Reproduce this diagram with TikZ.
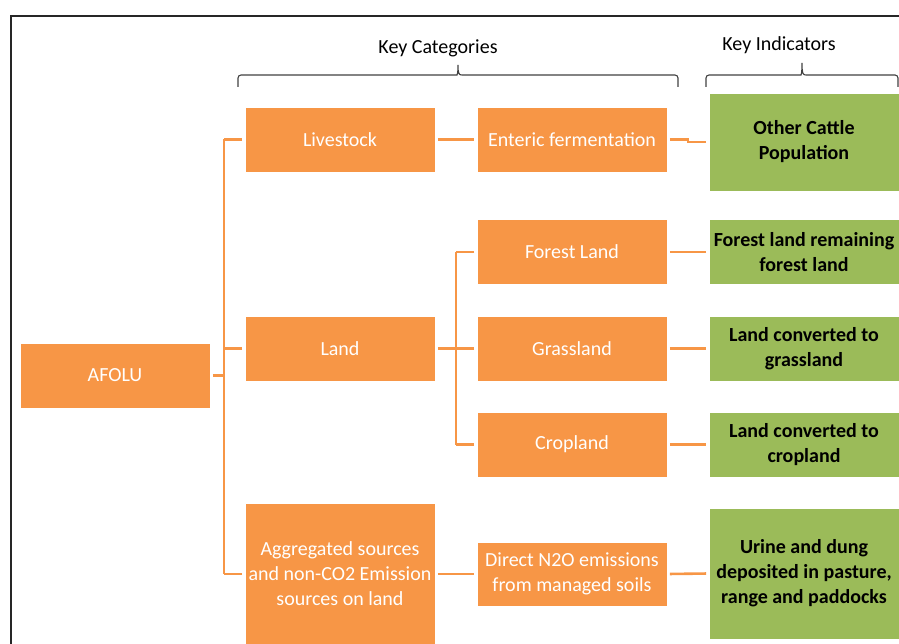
\documentclass[tikz,border=0pt]{standalone}
\usepackage{fontspec}
\setmainfont{Carlito}
\usetikzlibrary{calc}
\definecolor{boxorange}{HTML}{F79646}
\definecolor{boxgreen}{HTML}{9BBB59}
\definecolor{bracegray}{HTML}{404040}
% squared-off brace: left end, right end, tip height (y of the tip)
\newcommand\keybrace[3]{%
  \pgfmathsetmacro\bmid{(#1+#2)/2}%
  \draw[bracket] (#1,87) [rounded corners=3pt] -- (#1,75) -- (\bmid-4,75) [sharp corners]
    .. controls (\bmid-1,75) and (\bmid,74) .. (\bmid,#3)
    .. controls (\bmid,74) and (\bmid+1,75) .. (\bmid+4,75)
    [rounded corners=3pt] -- (#2,75) -- (#2,87);}
\begin{document}
\begin{tikzpicture}[x=1pt,y=-1pt,
  catbox/.style={fill=boxorange,draw=white,line width=0.6pt,minimum width=190pt,minimum height=65pt,
    align=center,text=white,inner sep=2pt,font=\fontsize{20}{25}\selectfont},
  indbox/.style={fill=boxgreen,draw=white,line width=0.6pt,minimum width=190pt,minimum height=65pt,
    align=center,text=black,inner sep=2pt,font=\fontsize{20}{25}\selectfont\bfseries},
  link/.style={draw=boxorange,line width=2.6pt},
  gap/.style={shorten <=2.5pt,shorten >=2.5pt},
  bracket/.style={draw=bracegray,line width=1.1pt},
  heading/.style={font=\fontsize{20}{24}\selectfont,text=black}]
\useasboundingbox (0,0) rectangle (899,644);
\clip (0,0) rectangle (899,644);
% outer frame
\draw[line width=2pt,draw=black!85] (10.5,660) -- (10.5,16.5) -- (920,16.5);

% column headings and their braces
\node[heading] (hcat) at (438,48) {Key Categories};
\node[heading] (hind) at (779,45) {Key Indicators};
\keybrace{238}{678}{65}
\keybrace{706}{898}{63}

% boxes
\node[catbox] (afolu) at (115,375.5) {AFOLU};
\node[catbox] (live) at (340,139.5) {Livestock};
\node[catbox] (land) at (340,348.5) {Land};
\node[catbox,minimum height=142pt] (agg) at (340,574) {Aggregated sources\\and non-CO2 Emission\\sources on land};
\node[catbox] (ent) at (572,139.5) {Enteric fermentation};
\node[catbox] (forest) at (572,252) {Forest Land};
\node[catbox] (grass) at (572,348.5) {Grassland};
\node[catbox] (crop) at (572,444.5) {Cropland};
\node[catbox,minimum height=64pt] (n2o) at (572,574) {Direct N2O emissions\\from managed soils};

\node[indbox,minimum height=98pt] (cattle) at (804,142) {Other Cattle\\Population};
\node[indbox] (iforest) at (804,252) {Forest land remaining\\forest land};
\node[indbox] (igrass) at (804,348.5) {Land converted to\\grassland};
\node[indbox] (icrop) at (804,444.5) {Land converted to\\cropland};
\node[indbox,minimum height=131pt] (urine) at (804,573.5) {Urine and dung\\deposited in pasture,\\range and paddocks};

% main trunk
\coordinate (trunk) at (224,0);
\coordinate (subtrunk) at (456,0);
\draw[link] (live.west -| trunk) -- (agg.west -| trunk);
\draw[link,shorten <=2.5pt] (afolu.east) -- (afolu.east -| trunk);
\draw[link,shorten <=2.5pt] (live.west) -- (live.west -| trunk);
\draw[link,shorten <=2.5pt] (land.west) -- (land.west -| trunk);
\draw[link,shorten <=2.5pt] (agg.west) -- (agg.west -| trunk);

% land sub-trunk
\draw[link] (forest.west -| subtrunk) -- (crop.west -| subtrunk);
\draw[link,shorten <=2.5pt] (land.east) -- (land.east -| subtrunk);
\draw[link,shorten <=2.5pt] (forest.west) -- (forest.west -| subtrunk);
\draw[link,shorten <=2.5pt] (grass.west) -- (grass.west -| subtrunk);
\draw[link,shorten <=2.5pt] (crop.west) -- (crop.west -| subtrunk);

% direct links
\draw[link,gap] (live.east) -- (ent.west);
\draw[link,gap] (agg.east) -- (n2o.west);
\draw[link,gap] (ent.east) -| ($(ent.east)!0.5!(cattle.west)$) |- (cattle.west);
\draw[link,gap] (forest.east) -- (iforest.west);
\draw[link,gap] (grass.east) -- (igrass.west);
\draw[link,gap] (crop.east) -- (icrop.west);
\draw[link,gap] (n2o.east) -- (urine.west);
\end{tikzpicture}
\end{document}
